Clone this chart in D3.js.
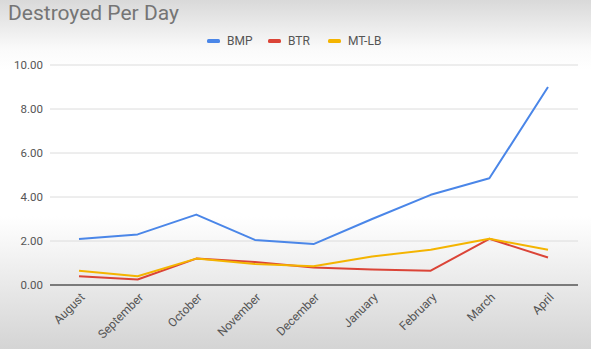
<!DOCTYPE html>
<html><head><meta charset="utf-8">
<script src="https://cdn.jsdelivr.net/npm/d3@7"></script>
<style>html,body{margin:0;padding:0;overflow:hidden;}</style>
</head><body>
<svg id="c" width="591" height="349"></svg>
<script>
const categories = ["August","September","October","November","December","January","February","March","April"];
const bmp  = [2.09, 2.3, 3.2, 2.05, 1.86, 3.0, 4.1, 4.85, 9.0];
const btr  = [0.4, 0.25, 1.2, 1.05, 0.8, 0.7, 0.65, 2.1, 1.25];
const mtlb = [0.65, 0.4, 1.2, 0.95, 0.85, 1.3, 1.6, 2.1, 1.6];
const yTicks = [0, 2, 4, 6, 8, 10];
const seriesNames = ["BMP","BTR","MT-LB"];
const colors = ["#4a86e8","#db4437","#f4b400"];
const series = [bmp, btr, mtlb];

const svg = d3.select("#c");
const W = 591, H = 349;
const defs = svg.append("defs");
const g1 = defs.append("linearGradient").attr("id","bg").attr("x1",0).attr("y1",0).attr("x2",0).attr("y2",1);
[[0,"#d9d9d9"],[0.14,"#fafafa"],[0.2,"#ffffff"],[0.62,"#ffffff"],[0.8,"#ebebeb"],[1,"#d4d4d4"]].forEach(([o,c])=>g1.append("stop").attr("offset",o).attr("stop-color",c));
svg.append("rect").attr("width",W).attr("height",H).attr("fill","url(#bg)");

const x = d3.scalePoint().domain(categories).range([79, 548]);
const y = d3.scaleLinear().domain([0,10]).range([285, 65]);

svg.append("g").selectAll("line").data(yTicks.filter(d=>d>0)).join("line")
  .attr("x1",50).attr("x2",578).attr("y1",d=>y(d)).attr("y2",d=>y(d))
  .attr("stroke","#dcdcdc").attr("stroke-width",1);
svg.append("line").attr("x1",50).attr("x2",578).attr("y1",y(0)).attr("y2",y(0))
  .attr("stroke","#555").attr("stroke-width",1.3);

const yAxis = d3.axisLeft(y).tickValues(yTicks).tickFormat(d3.format(".2f")).tickSize(0).tickPadding(0);
const ya = svg.append("g").attr("transform","translate(43,0)").call(yAxis);
ya.select(".domain").remove();
ya.selectAll("text").attr("font-family","Roboto, Arial, sans-serif").attr("font-size",11.5).attr("fill","#555");

const xAxis = d3.axisBottom(x).tickSize(0).tickPadding(0);
const xa = svg.append("g").attr("transform",`translate(0,${y(0)})`).call(xAxis);
xa.select(".domain").remove();
xa.selectAll("text").attr("font-family","Roboto, Arial, sans-serif").attr("font-size",12).attr("fill","#555")
  .attr("text-anchor","end").attr("dy",0)
  .attr("transform","translate(6,13) rotate(-45)");

const line = d3.line().x((d,i)=>x(categories[i])).y(d=>y(d));
series.forEach((s,k)=>{
  svg.append("path").datum(s).attr("d",line).attr("fill","none")
    .attr("stroke",colors[k]).attr("stroke-width",2).attr("stroke-linejoin","round");
});

svg.append("text").attr("x",8).attr("y",20).text("Destroyed Per Day")
  .attr("font-family","Roboto, Arial, sans-serif").attr("font-size",21).attr("fill","#757575");

const legX = [207, 268, 328];
seriesNames.forEach((n,k)=>{
  const lg = svg.append("g").attr("transform",`translate(${legX[k]},41)`);
  lg.append("rect").attr("x",0).attr("y",-2).attr("width",13).attr("height",4).attr("rx",1.5).attr("fill",colors[k]);
  lg.append("text").attr("x",20).attr("y",4).text(n)
    .attr("font-family","Roboto, Arial, sans-serif").attr("font-size",12).attr("fill","#555");
});
</script>
</body></html>
